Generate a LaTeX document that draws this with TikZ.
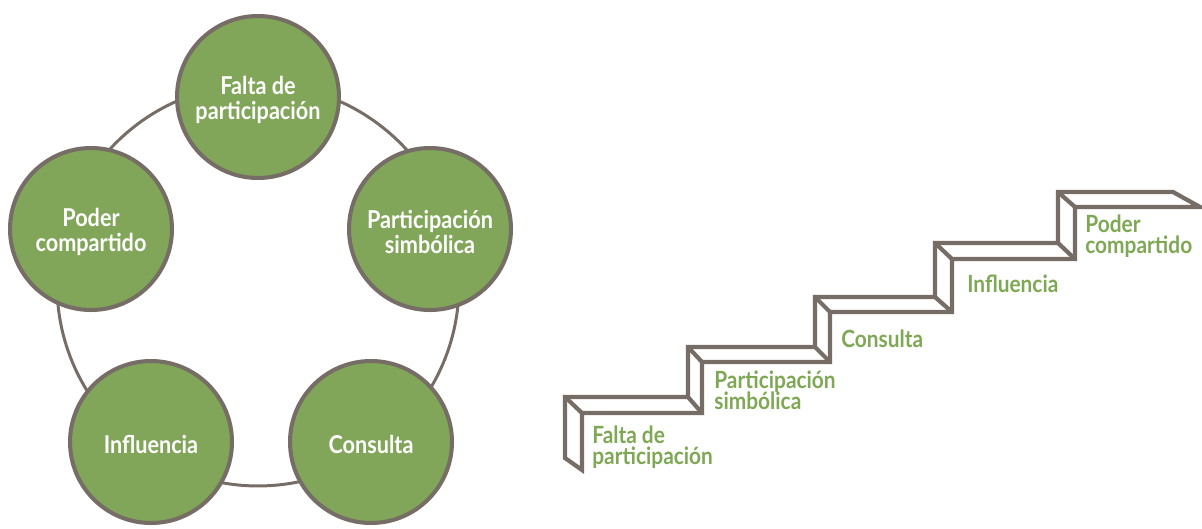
\documentclass[tikz,border=0pt]{standalone}
\usepackage{fontspec}
\setmainfont{Lato}[FakeStretch=0.88]
\definecolor{leaf}{RGB}{130,166,89}
\definecolor{stone}{RGB}{117,109,102}
\definecolor{leaftext}{RGB}{126,168,84}
\newcommand\mytightlines{\lineskiplimit=-100pt\relax}
\tikzset{
  stage/.style={circle, draw=stone, line width=2.3pt, fill=leaf, minimum size=3.24cm,
    inner sep=0pt},
  stagetext/.style={text=white, inner sep=0pt, align=center, yshift=-1.6pt,
    font=\fontsize{14}{14.2}\selectfont\bfseries},
  ring/.style={draw=stone, line width=1.7pt},
  stair/.style={draw=stone, line width=2.4pt, line join=miter, line cap=round},
  steplabel/.style={anchor=base west, text=leaftext, inner sep=0pt, align=left,
    font=\fontsize{13.5}{11.4}\selectfont\bfseries\mytightlines},
}
\begin{document}
\begin{tikzpicture}[x=0.02cm, y=-0.02cm]
\useasboundingbox (0,0) rectangle (1202,528);
% ring
\coordinate (ringc) at (258,285);
\draw[ring] (ringc) circle[radius=4.02cm];
% circles
\node[stage] (c1) at (258,97) {};
\node[stage] (c2) at (430,229) {};
\node[stage] (c3) at (371,442) {};
\node[stage] (c4) at (151,442) {};
\node[stage] (c5) at (91,229) {};
\node[stagetext] (t1) at (c1) {Falta de\\participación};
\node[stagetext] (t2) at (c2) {Participación\\simbólica};
\node[stagetext] (t3) at (c3) {Consulta};
\node[stagetext] (t4) at (c4) {Influencia};
\node[stagetext] (t5) at (c5) {Poder\\compartido};
% staircase
\draw[stair] (565,458) -- (565,397) -- (688,397) -- (688,347) -- (815,347) -- (815,297)
  -- (935,297) -- (935,243) -- (1058,243) -- (1058,192) -- (1173,192) -- (1200,207)
  -- (1075,207) -- (1075,259) -- (952,259) -- (952,312) -- (830,312) -- (830,362)
  -- (702,362) -- (702,413) -- (582,413) -- (582,470) -- cycle;
\draw[stair] (565,397) -- (582,413);
\draw[stair] (688,397) -- (702,413);
\draw[stair] (688,347) -- (702,362);
\draw[stair] (815,347) -- (830,362);
\draw[stair] (815,297) -- (830,312);
\draw[stair] (935,297) -- (952,312);
\draw[stair] (935,243) -- (952,259);
\draw[stair] (1058,243) -- (1075,259);
\draw[stair] (1058,192) -- (1075,207);
% step labels
\node[steplabel] (s1) at (592,464) {Falta de\\participación};
\node[steplabel] (s2) at (714,409) {Participación\\simbólica};
\node[steplabel] (s3) at (841,347) {Consulta};
\node[steplabel] (s4) at (967,292) {Influencia};
\node[steplabel] (s5) at (1085,253) {Poder\\compartido};
\end{tikzpicture}
\end{document}
